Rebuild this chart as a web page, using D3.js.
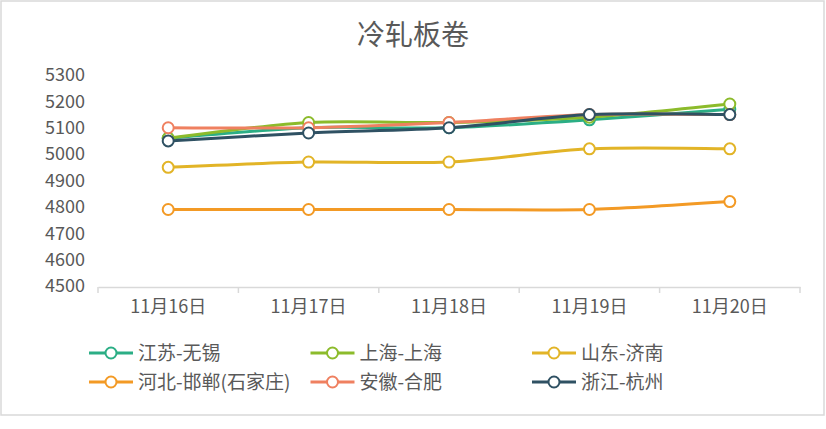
<!DOCTYPE html>
<html>
<head>
<meta charset="utf-8">
<script src="https://cdn.jsdelivr.net/npm/d3@7"></script>
<style>
  body { margin: 0; background: #fff; }
  svg text { font-family: "Noto Sans CJK SC", "Open Sans", sans-serif; fill: #595959; }
</style>
</head>
<body>
<div id="chart"></div>
<script>
const title = '冷轧板卷';
const dates = ['11月16日', '11月17日', '11月18日', '11月19日', '11月20日'];
const yTicks = [4500, 4600, 4700, 4800, 4900, 5000, 5100, 5200, 5300];
const seriesNames = ['江苏-无锡', '上海-上海', '山东-济南', '河北-邯郸(石家庄)', '安徽-合肥', '浙江-杭州'];
const seriesColors = ['#2bae85', '#8cbb2b', '#e2b427', '#f39a25', '#ef8060', '#2f5163'];
const wuxi = [5060, 5100, 5100, 5130, 5170];
const shanghai = [5060, 5120, 5120, 5140, 5190];
const jinan = [4950, 4970, 4970, 5020, 5020];
const handan = [4790, 4790, 4790, 4790, 4820];
const hefei = [5100, 5100, 5120, 5150, 5150];
const hangzhou = [5050, 5080, 5100, 5150, 5150];
const seriesValues = [wuxi, shanghai, jinan, handan, hefei, hangzhou];

const w = 826;
const h = 429;
const padLeft = 98, padRight = 800, padTop = 75, padBottom = 286;

const svg = d3.select('#chart').append('svg')
  .attr('width', w)
  .attr('height', h);

svg.append('rect')
  .attr('x', 1).attr('y', 1)
  .attr('width', 823).attr('height', 414)
  .attr('fill', '#fff')
  .attr('stroke', '#d9d9d9')
  .attr('stroke-width', 1.5);

svg.append('text')
  .attr('x', 413).attr('y', 35)
  .attr('dy', '0.36em')
  .attr('text-anchor', 'middle')
  .style('font-size', '28px')
  .text(title);

const xScale = d3.scaleBand().domain(dates).range([padLeft, padRight]);
const yScale = d3.scaleLinear().domain([4500, 5300]).range([padBottom, padTop]);

// y axis labels only
const yAxis = d3.axisLeft(yScale).tickValues(yTicks).tickSize(0).tickPadding(13).tickFormat(d3.format('d'));
const yg = svg.append('g').attr('transform', `translate(${padLeft}, 0)`).call(yAxis);
yg.select('.domain').remove();
yg.selectAll('text').style('font-size', '18px').attr('fill', '#595959');

// x axis
const xAxis = d3.axisBottom(xScale).tickSize(0).tickPadding(13);
const xg = svg.append('g').attr('transform', `translate(0, ${padBottom + 1})`).call(xAxis);
xg.select('.domain').attr('stroke', '#d9d9d9').attr('stroke-width', 1.5);
xg.selectAll('text').style('font-size', '18px').attr('fill', '#595959');
xg.selectAll('.bt')
  .data(d3.range(dates.length + 1))
  .enter()
  .append('line')
  .attr('class', 'bt')
  .attr('x1', i => padLeft + i * xScale.step())
  .attr('x2', i => padLeft + i * xScale.step())
  .attr('y1', 0).attr('y2', 6)
  .attr('stroke', '#d9d9d9').attr('stroke-width', 1.5);

const line = d3.line()
  .x((d, i) => xScale(dates[i]) + xScale.bandwidth() / 2)
  .y(d => yScale(d))
  .curve(d3.curveCardinal.tension(0.2));

const plot = svg.append('g');
seriesValues.forEach((vals, s) => {
  const g = plot.append('g');
  g.append('path')
    .datum(vals)
    .attr('d', line)
    .attr('fill', 'none')
    .attr('stroke', seriesColors[s])
    .attr('stroke-width', 3)
    .attr('stroke-linecap', 'round');
  g.selectAll('circle')
    .data(vals)
    .enter()
    .append('circle')
    .attr('cx', (d, i) => xScale(dates[i]) + xScale.bandwidth() / 2)
    .attr('cy', d => yScale(d))
    .attr('r', 5.5)
    .attr('fill', '#fff')
    .attr('stroke', seriesColors[s])
    .attr('stroke-width', 2);
});

// legend
const legendCols = [89, 310.5, 532];
const legendRows = [353, 382];
const legend = svg.append('g');
seriesNames.forEach((name, i) => {
  const x = legendCols[i % 3];
  const y = legendRows[Math.floor(i / 3)];
  const item = legend.append('g').attr('transform', `translate(${x}, ${y})`);
  item.append('line')
    .attr('x1', 0).attr('x2', 44).attr('y1', 0).attr('y2', 0)
    .attr('stroke', seriesColors[i]).attr('stroke-width', 3);
  item.append('circle')
    .attr('cx', 22).attr('cy', 0).attr('r', 5.5)
    .attr('fill', '#fff')
    .attr('stroke', seriesColors[i]).attr('stroke-width', 2);
  item.append('text')
    .attr('x', 49).attr('y', 0)
    .attr('dy', '0.36em')
    .style('font-size', '19px')
    .text(name);
});
</script>
</body>
</html>
